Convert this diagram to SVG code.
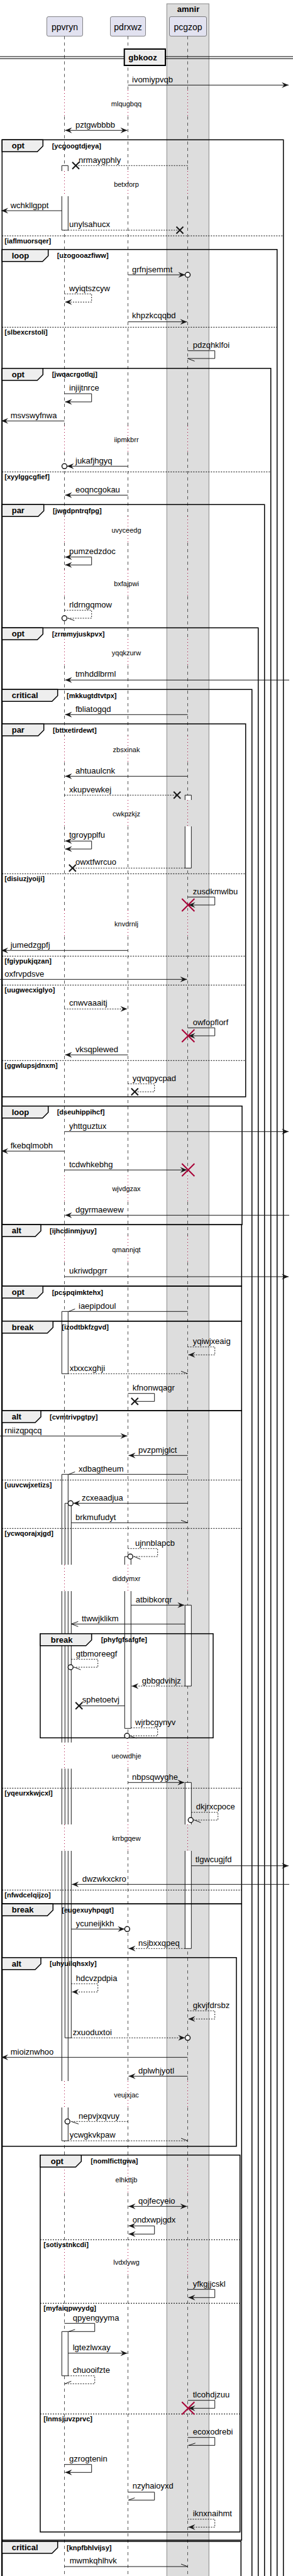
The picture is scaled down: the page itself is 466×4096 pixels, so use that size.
<svg xmlns="http://www.w3.org/2000/svg" width="466" height="4096" viewBox="0 0 466 4096">
<style>
.ll{stroke:#555;stroke-width:1;stroke-dasharray:5,5;fill:none}
.dl{stroke:#A80036;stroke-width:1;stroke-dasharray:1,4;fill:none}
.m{stroke:#181818;stroke-width:1;fill:none}
.d{stroke:#181818;stroke-width:1;fill:none;stroke-dasharray:2,2}
.a{marker-end:url(#ah)}
.b{marker-start:url(#ah);marker-end:url(#ah)}
.ci{fill:#fff;stroke:#181818;stroke-width:1.5}
.x{stroke:#181818;stroke-width:2;fill:none}
.rx{stroke:#A80036;stroke-width:2;fill:none}
.fr{fill:none;stroke:#000;stroke-width:1.5}
.tab{fill:#EEEEEE;stroke:#000;stroke-width:1.5}
.el{stroke:#000;stroke-width:1;stroke-dasharray:2,2;fill:none}
.act{fill:#fff;stroke:none}
.al{stroke:#181818;stroke-width:1;fill:none}
.pt{font:14px "Liberation Sans",Arial,sans-serif;fill:#000}
.t{font:13px "Liberation Sans",Arial,sans-serif;fill:#000}
.dt{font:11px "Liberation Sans",Arial,sans-serif;fill:#000}
.gl{font:bold 13px "Liberation Sans",Arial,sans-serif;fill:#000}
.gd{font:bold 11px "Liberation Sans",Arial,sans-serif;fill:#000}
</style>
<defs>
<marker id="ah" viewBox="-12 -6 13 12" refX="0" refY="0" markerWidth="13" markerHeight="12" markerUnits="userSpaceOnUse" orient="auto-start-reverse"><path d="M0,0 L-11,-4.5 L-7,0 L-11,4.5 Z" fill="#181818"/></marker>
</defs>
<rect width="466" height="4096" fill="#fff"/>
<g id="box-amnir">
<rect x="265.3" y="6" width="67" height="4100" fill="#DDDDDD" stroke="#888" stroke-width="1"/>
<text class="gl" x="299.5" y="19" text-anchor="middle">amnir</text>
</g>
<g id="lifelines">
<path class="ll" d="M102.5,57.5 V143 M102.5,185 V272 M102.5,312 V677 M102.5,719 V821 M102.5,863 V906 M102.5,948 V1016 M102.5,1058 V1170 M102.5,1212 V1272 M102.5,1314 V1447 M102.5,1489 V1869 M102.5,1911 V1965 M102.5,2007 V2488 M102.5,2530 V2770 M102.5,2812 V2901 M102.5,2943 V3309 M102.5,3351 V3445 M102.5,3487 V3576 M102.5,3618 V4096"/>
<path class="ll" d="M203.5,57.5 V143 M203.5,185 V272 M203.5,312 V677 M203.5,719 V821 M203.5,863 V906 M203.5,948 V1016 M203.5,1058 V1170 M203.5,1212 V1272 M203.5,1314 V1447 M203.5,1489 V1869 M203.5,1911 V1965 M203.5,2007 V2488 M203.5,2530 V2770 M203.5,2812 V2901 M203.5,2943 V3309 M203.5,3351 V3445 M203.5,3487 V3576 M203.5,3618 V4096"/>
<path class="ll" d="M298.5,57.5 V143 M298.5,185 V272 M298.5,312 V677 M298.5,719 V821 M298.5,863 V906 M298.5,948 V1016 M298.5,1058 V1170 M298.5,1212 V1272 M298.5,1314 V1447 M298.5,1489 V1869 M298.5,1911 V1965 M298.5,2007 V2488 M298.5,2530 V2770 M298.5,2812 V2901 M298.5,2943 V3309 M298.5,3351 V3445 M298.5,3487 V3576 M298.5,3618 V4096"/>
<path class="dl" d="M102.5,143 V185 M102.5,272 V312 M102.5,677 V719 M102.5,821 V863 M102.5,906 V948 M102.5,1016 V1058 M102.5,1170 V1212 M102.5,1272 V1314 M102.5,1447 V1489 M102.5,1869 V1911 M102.5,1965 V2007 M102.5,2488 V2530 M102.5,2770 V2812 M102.5,2901 V2943 M102.5,3309 V3351 M102.5,3445 V3487 M102.5,3576 V3618"/>
<path class="dl" d="M203.5,143 V185 M203.5,272 V312 M203.5,677 V719 M203.5,821 V863 M203.5,906 V948 M203.5,1016 V1058 M203.5,1170 V1212 M203.5,1272 V1314 M203.5,1447 V1489 M203.5,1869 V1911 M203.5,1965 V2007 M203.5,2488 V2530 M203.5,2770 V2812 M203.5,2901 V2943 M203.5,3309 V3351 M203.5,3445 V3487 M203.5,3576 V3618"/>
<path class="dl" d="M298.5,143 V185 M298.5,272 V312 M298.5,677 V719 M298.5,821 V863 M298.5,906 V948 M298.5,1016 V1058 M298.5,1170 V1212 M298.5,1272 V1314 M298.5,1447 V1489 M298.5,1869 V1911 M298.5,1965 V2007 M298.5,2488 V2530 M298.5,2770 V2812 M298.5,2901 V2943 M298.5,3309 V3351 M298.5,3445 V3487 M298.5,3576 V3618"/>
</g>
<g id="ppvryn"><rect x="74.5" y="26.5" width="57" height="31" rx="2.5" fill="#E2E2F0" stroke="#181818" stroke-width="0.5"/><text class="pt" x="103" y="48" text-anchor="middle">ppvryn</text></g>
<g id="pdrxwz"><rect x="175.5" y="26.5" width="56" height="31" rx="2.5" fill="#E2E2F0" stroke="#181818" stroke-width="0.5"/><text class="pt" x="203.5" y="48" text-anchor="middle">pdrxwz</text></g>
<g id="pcgzop"><rect x="269.5" y="26.5" width="59" height="31" rx="2.5" fill="#E2E2F0" stroke="#181818" stroke-width="0.5"/><text class="pt" x="299" y="48" text-anchor="middle">pcgzop</text></g>
<g id="activations">
<path class="act" d="M98.3,263.3 h10 v8.7 h-10 Z M98.3,312 h10 v54 h-10 Z M294.3,1264.3 h10 v7.7 h-10 Z M294.3,1314 h10 v66.3 h-10 Z M98.3,2085.3 h10 v99 h-10 Z M98.3,2344.3 h10 v143.7 h-10 Z M98.3,2530 h10 v240.7 h-10 Z M98.3,2812.3 h10 v88.7 h-10 Z M98.3,2943 h10 v366 h-10 Z M98.3,3351 h10 v53 h-10 Z M103.3,2390.3 h10 v97.7 h-10 Z M103.3,2530 h10 v240.7 h-10 Z M103.3,2812.3 h10 v88.7 h-10 Z M103.3,2943 h10 v297.3 h-10 Z M198.3,2475 h10 v13 h-10 Z M198.3,2530 h10 v218.3 h-10 Z M294.3,2552.3 h10 v128.7 h-10 Z M294.3,2834.3 h10 v66.7 h-10 Z M294.3,2943 h10 v155.3 h-10 Z M98.3,3707.3 h10 v70.4 h-10 Z"/>
<path class="al" d="M98.3,272 V263.3 H108.3 V272 M98.3,312 V366 H108.3 V312 M294.3,1272 V1264.3 H304.3 V1272 M294.3,1314 V1380.3 H304.3 V1314 M98.3,2085.3 h10 v99 h-10 Z M98.3,2488 V2344.3 H108.3 V2488 M98.3,2530 V2770.7 M108.3,2530 V2770.7 M98.3,2812.3 V2901 M108.3,2812.3 V2901 M98.3,2943 V3309 M108.3,2943 V3309 M98.3,3351 V3404 H108.3 V3351 M103.3,2488 V2390.3 H113.3 V2488 M103.3,2530 V2770.7 M113.3,2530 V2770.7 M103.3,2812.3 V2901 M113.3,2812.3 V2901 M103.3,2943 V3240.3 H113.3 V2943 M198.3,2488 V2475 H208.3 V2488 M198.3,2530 V2748.3 H208.3 V2530 M294.3,2552.3 h10 v128.7 h-10 Z M294.3,2901 V2834.3 H304.3 V2901 M294.3,2943 V3098.3 H304.3 V2943 M98.3,3707.3 h10 v70.4 h-10 Z"/>
</g>
<g id="separator-gbkooz">
<path d="M0,90 H466 M0,93.3 H466" stroke="#000" stroke-width="1"/>
<rect x="197.7" y="78" width="65.3" height="26" fill="#EEEEEE" stroke="#000" stroke-width="2"/>
<text class="gl" x="204.3" y="96">gbkooz</text>
</g>
<g id="frames">
<rect class="fr" x="3.3" y="222.3" width="447.4" height="3900"/>
<polygon class="tab" points="3.3,222.3 68.3,222.3 68.3,232.3 59.3,241.3 3.3,241.3"/>
<text class="gl" x="18.7" y="236.3">opt</text><text class="gd" x="82.7" y="235.8">[ycgoogtdjeya]</text>
<path class="el" d="M3.3,375 H450.7"/><text class="gd" x="7.3" y="386.5">[iaflmuorsqer]</text>

<rect class="fr" x="3.3" y="396.7" width="437.4" height="3800"/>
<polygon class="tab" points="3.3,396.7 76.7,396.7 76.7,406.7 67.7,415.7 3.3,415.7"/>
<text class="gl" x="18.7" y="410.7">loop</text><text class="gd" x="90.7" y="410.2">[uzogooazfiww]</text>
<path class="el" d="M3.3,520.3 H440.7"/><text class="gd" x="7.3" y="531.8">[slbexcrstoli]</text>

<rect class="fr" x="3.3" y="585.7" width="427.4" height="3600"/>
<polygon class="tab" points="3.3,585.7 68.3,585.7 68.3,595.7 59.3,604.7 3.3,604.7"/>
<text class="gl" x="18.7" y="599.7">opt</text><text class="gd" x="82.7" y="599.2">[jwqacrgotlqj]</text>
<path class="el" d="M3.3,750.3 H430.7"/><text class="gd" x="7.3" y="761.8">[xyylggcgfief]</text>

<rect class="fr" x="3.3" y="802.3" width="417.4" height="3400"/>
<polygon class="tab" points="3.3,802.3 69.7,802.3 69.7,812.3 60.7,821.3 3.3,821.3"/>
<text class="gl" x="18.7" y="816.3">par</text><text class="gd" x="84" y="815.8">[jwgdpntrqfpg]</text>

<rect class="fr" x="3.3" y="998.3" width="407.4" height="3200"/>
<polygon class="tab" points="3.3,998.3 68.3,998.3 68.3,1008.3 59.3,1017.3 3.3,1017.3"/>
<text class="gl" x="18.7" y="1012.3">opt</text><text class="gd" x="82.7" y="1011.8">[zrmmyjuskpvx]</text>

<rect class="fr" x="3.3" y="1096.3" width="397.4" height="3100"/>
<polygon class="tab" points="3.3,1096.3 91.7,1096.3 91.7,1106.3 82.7,1115.3 3.3,1115.3"/>
<text class="gl" x="18.7" y="1110.3">critical</text><text class="gd" x="106" y="1109.8">[mkkugtdtvtpx]</text>

<rect class="fr" x="3.3" y="1151" width="387.4" height="593"/>
<polygon class="tab" points="3.3,1151 69.7,1151 69.7,1161 60.7,1170 3.3,1170"/>
<text class="gl" x="18.7" y="1165">par</text><text class="gd" x="84" y="1164.5">[bttxetirdewt]</text>
<path class="el" d="M3.3,1389.3 H390.7 M3.3,1520.3 H390.7 M3.3,1566.3 H390.7 M3.3,1686.3 H390.7"/>
<text class="gd" x="7.3" y="1400.8">[disiuzjyoiji]</text>
<text class="gd" x="7.3" y="1531.8">[fgiypukjqzan]</text>
<text class="gd" x="7.3" y="1577.8">[uugwecxiglyo]</text>
<text class="gd" x="7.3" y="1697.8">[ggwlupsjdnxm]</text>

<rect class="fr" x="3.3" y="1758.7" width="381.7" height="188.6"/>
<polygon class="tab" points="3.3,1758.7 76.7,1758.7 76.7,1768.7 67.7,1777.7 3.3,1777.7"/>
<text class="gl" x="18.7" y="1772.7">loop</text><text class="gd" x="90.7" y="1772.2">[dseuhippihcf]</text>

<rect class="fr" x="3.3" y="1947.3" width="381" height="97.7"/>
<polygon class="tab" points="3.3,1947.3 65,1947.3 65,1957.3 56,1966.3 3.3,1966.3"/>
<text class="gl" x="18.7" y="1961.3">alt</text><text class="gd" x="79" y="1960.8">[ijhcdinmjyuy]</text>

<rect class="fr" x="3.3" y="2045" width="381" height="55.7"/>
<polygon class="tab" points="3.3,2045 68.3,2045 68.3,2055 59.3,2064 3.3,2064"/>
<text class="gl" x="18.7" y="2059">opt</text><text class="gd" x="82.7" y="2058.5">[pcspqimktehx]</text>

<rect class="fr" x="3.3" y="2100.7" width="381" height="142.3"/>
<polygon class="tab" points="3.3,2100.7 84.3,2100.7 84.3,2110.7 75.3,2119.7 3.3,2119.7"/>
<text class="gl" x="18.7" y="2114.7">break</text><text class="gd" x="98.3" y="2114.2">[izodtbkfzgvd]</text>

<rect class="fr" x="3.3" y="2243" width="381" height="784.3"/>
<polygon class="tab" points="3.3,2243 65,2243 65,2253 56,2262 3.3,2262"/>
<text class="gl" x="18.7" y="2257">alt</text><text class="gd" x="79" y="2256.5">[cvmtrivpgtpy]</text>
<path class="el" d="M3.3,2353.3 H384.3 M3.3,2430.3 H384.3 M3.3,2843.3 H384.3 M3.3,3005.3 H384.3"/>
<text class="gd" x="7.3" y="2364.8">[uuvcwjxetizs]</text>
<text class="gd" x="7.3" y="2441.8">[ycwqorajxjgd]</text>
<text class="gd" x="7.3" y="2854.8">[yqeurxkwjcxl]</text>
<text class="gd" x="7.3" y="3016.8">[nfwdcelqijzo]</text>

<rect class="fr" x="3.3" y="3027.3" width="381" height="1011.7"/>
<polygon class="tab" points="3.3,3027.3 84.3,3027.3 84.3,3037.3 75.3,3046.3 3.3,3046.3"/>
<text class="gl" x="18.7" y="3041.3">break</text><text class="gd" x="98.3" y="3040.8">[eugexuyhpqgt]</text>

<rect class="fr" x="3.3" y="3112.7" width="372.7" height="300"/>
<polygon class="tab" points="3.3,3112.7 65,3112.7 65,3122.7 56,3131.7 3.3,3131.7"/>
<text class="gl" x="18.7" y="3126.7">alt</text><text class="gd" x="79" y="3126.2">[uhyuilqhsxly]</text>

<rect class="fr" x="3.3" y="4041" width="380" height="200"/>
<polygon class="tab" points="3.3,4041 91.7,4041 91.7,4051 82.7,4060 3.3,4060"/>
<text class="gl" x="18.7" y="4055">critical</text><text class="gd" x="106" y="4054.5">[knpfbhlvijsy]</text>
</g>
<g id="frames-inner">
<rect class="fr" x="64" y="2597.7" width="275" height="165.6"/>
<polygon class="tab" points="64,2597.7 145.7,2597.7 145.7,2607.7 136.7,2616.7 64,2616.7"/>
<text class="gl" x="80.7" y="2611.7">break</text><text class="gd" x="160.7" y="2611.2">[phyfgfsafgfe]</text>

<rect class="fr" x="64" y="3426.7" width="317.7" height="599.3"/>
<polygon class="tab" points="64,3426.7 129.3,3426.7 129.3,3436.7 120.3,3445.7 64,3445.7"/>
<text class="gl" x="80.7" y="3440.7">opt</text><text class="gd" x="144.3" y="3440.2">[nomlficttgwa]</text>
<path class="el" d="M64,3561.3 H381.7 M64,3662.3 H381.7 M64,3838.3 H381.7"/>
<text class="gd" x="69.3" y="3572.8">[sotiystnkcdi]</text>
<text class="gd" x="69.3" y="3673.8">[myfaiqpwyydg]</text>
<text class="gd" x="69.3" y="3849.8">[lnmsjuvzprvc]</text>
</g>
<g id="delays">
<text class="dt" x="201" y="169" text-anchor="middle">mlqugbqq</text>
<text class="dt" x="201" y="297" text-anchor="middle">betxforp</text>
<text class="dt" x="201" y="703" text-anchor="middle">iipmkbrr</text>
<text class="dt" x="201" y="847" text-anchor="middle">uvyceedg</text>
<text class="dt" x="201" y="932" text-anchor="middle">bxfajpwi</text>
<text class="dt" x="201" y="1042" text-anchor="middle">yqqkzurw</text>
<text class="dt" x="201" y="1196" text-anchor="middle">zbsxinak</text>
<text class="dt" x="201" y="1298" text-anchor="middle">cwkpzkjz</text>
<text class="dt" x="201" y="1473" text-anchor="middle">knvdrnlj</text>
<text class="dt" x="201" y="1894" text-anchor="middle">wjvdgzax</text>
<text class="dt" x="201" y="1991" text-anchor="middle">qmannjqt</text>
<text class="dt" x="201" y="2514" text-anchor="middle">diddymxr</text>
<text class="dt" x="201" y="2796" text-anchor="middle">ueowdhje</text>
<text class="dt" x="201" y="2927" text-anchor="middle">krrbgqew</text>
<text class="dt" x="201" y="3335" text-anchor="middle">veujxjac</text>
<text class="dt" x="201" y="3470" text-anchor="middle">elhkttjb</text>
<text class="dt" x="201" y="3601" text-anchor="middle">lvdxlywg</text>
</g>
<g id="connectors">
<path class="m a" d="M203.5,135.3 H459"/><text class="t" x="210" y="131">ivomiypvqb</text>
<path class="m b" d="M103.5,207.3 H202.5"/><text class="t" x="120" y="202.5">pztgwbbbb</text>
<path class="d" d="M298.5,263.3 H120.5"/><path class="x" d="M115,257.8 L126,268.8 M126,257.8 L115,268.8"/><text class="t" x="125" y="258.5">nrmaygphly</text>
<path class="m a" d="M98.3,335 H2"/><text class="t" x="16.7" y="330.5">wchkllgppt</text>
<path class="d" d="M108.3,366 H286"/><path class="x" d="M280.5,360.5 L291.5,371.5 M291.5,360.5 L280.5,371.5"/><text class="t" x="110" y="361">unylsahucx</text>
<path class="m a" d="M203.5,437 H294.5"/><circle class="ci" cx="298.5" cy="437" r="4"/><text class="t" x="210" y="432.5">grfnjsemmt</text>
<path class="d a" d="M102.5,467.3 H145.7 V480.3 H103.5"/><text class="t" x="110" y="462.5">wyiqtszcyw</text>
<path class="m a" d="M203.5,511.7 H297.5"/><text class="t" x="210" y="506">khpzkcqqbd</text>
<path class="m" d="M298.5,557.7 H341.7 V570 H298.5 M298.5,570 L309.5,574.3"/><text class="t" x="306.7" y="553">pdzqhklfoi</text>
<path class="m a" d="M102.5,626 H145.7 V639 H103.5"/><text class="t" x="110" y="620.5">injijtnrce</text>
<path class="m a" d="M102.5,669.3 H2"/><text class="t" x="16.7" y="664.5">msvswyfnwa</text>
<path class="m a" d="M203.5,741.3 H106.5"/><circle class="ci" cx="102.5" cy="741.3" r="4"/><text class="t" x="120" y="736.5">jukafjhgyq</text>
<path class="m a" d="M203.5,787.3 H103.5"/><text class="t" x="120" y="782.5">eoqncgokau</text>
<path class="m b" d="M103.5,885.7 H145.7 V898.3 H103.5"/><text class="t" x="110" y="880.5">pumzedzdoc</text>
<path class="d" d="M102.5,970.3 H145.7 V983 H106.5"/><circle class="ci" cx="102.5" cy="983" r="4"/><path class="m" d="M108.3,983 L118.3,986.7"/><text class="t" x="110" y="965.5">rldrngqmow</text>
<path class="m a" d="M460,1081.3 H103.5"/><text class="t" x="120" y="1076">tmhddlbrml</text>
<path class="m a" d="M298.5,1136.3 H103.5"/><text class="t" x="120" y="1131.5">fbliatogqd</text>
<path class="m a" d="M298.5,1234.3 H103.5"/><text class="t" x="120" y="1229.5">ahtuaulcnk</text>
<path class="d" d="M102.5,1264.3 H281.7"/><path class="x" d="M276.2,1258.8 L287.2,1269.8 M287.2,1258.8 L276.2,1269.8"/><text class="t" x="110" y="1259.5">xkupvewkej</text>
<path class="m b" d="M103.5,1337.3 H145.7 V1350 H103.5"/><text class="t" x="110" y="1332">tgroypplfu</text>
<path class="d" d="M294.3,1380.3 H115.3"/><path class="x" d="M109.8,1374.8 L120.8,1385.8 M120.8,1374.8 L109.8,1385.8"/><text class="t" x="120" y="1375">owxtfwrcuo</text>
<path class="m a" d="M298.5,1426.3 H341.7 V1439 H299.5"/><path class="rx" d="M289.3,1429 L309.3,1449 M309.3,1429 L289.3,1449"/><text class="t" x="306.7" y="1421.5">zusdkmwlbu</text>
<path class="m a" d="M203.5,1511.3 H2"/><text class="t" x="16.7" y="1506.5">jumedzgpfj</text>
<path class="m a" d="M0,1557.3 H297.5"/><text class="t" x="7.3" y="1552.5">oxfrvpdsve</text>
<path class="d a" d="M102.5,1604.3 H202.5"/><text class="t" x="110" y="1599">cnwvaaaitj</text>
<path class="m a" d="M298.5,1634.3 H341.7 V1647 H299.5"/><path class="rx" d="M289.3,1637 L309.3,1657 M309.3,1637 L289.3,1657"/><text class="t" x="306.7" y="1629.5">owfopflorf</text>
<path class="m a" d="M203.5,1677.3 H103.5"/><text class="t" x="120" y="1672.5">vksqplewed</text>
<path class="d" d="M203.5,1723.3 H245.7 V1736 H214.3"/><path class="x" d="M208.8,1730.5 L219.8,1741.5 M219.8,1730.5 L208.8,1741.5"/><text class="t" x="210.7" y="1718.5">yqvqpycpad</text>
<path class="m a" d="M102.5,1799.3 H459"/><text class="t" x="110" y="1794.5">yhttguztux</text>
<path class="m a" d="M102.5,1830.3 H2"/><text class="t" x="16.7" y="1825.5">fkebqlmobh</text>
<path class="m a" d="M102.5,1860.3 H297.5"/><path class="rx" d="M289.3,1850.3 L309.3,1870.3 M309.3,1850.3 L289.3,1870.3"/><text class="t" x="110" y="1855.5">tcdwhkebhg</text>
<path class="m a" d="M460,1932.3 H103.5"/><text class="t" x="120" y="1927.5">dgyrmaewew</text>
<path class="m a" d="M102.5,2030 H459"/><text class="t" x="110" y="2025">ukriwdpgrr</text>
<path class="m" d="M298.5,2085.3 H108.3 M109.3,2085.3 L119.3,2081.3"/><text class="t" x="125" y="2080.5">iaepipdoul</text>
<path class="d a" d="M298.5,2141.7 H341.7 V2154.3 H299.5"/><text class="t" x="306.7" y="2136.5">yqiwjxeaig</text>
<path class="d" d="M108.3,2184.3 H298.5"/><path class="m" d="M298.5,2184.3 L288,2180.3"/><text class="t" x="110.7" y="2179.5">xtxxcxghji</text>
<path class="m" d="M203.5,2215.7 H245.7 V2228.3 H214.3"/><path class="x" d="M208.8,2222.8 L219.8,2233.8 M219.8,2222.8 L208.8,2233.8"/><text class="t" x="210.7" y="2210.5">kfnonwqagr</text>
<path class="m a" d="M0,2283.3 H202.5"/><text class="t" x="7.3" y="2278.5">rniizqpqcq</text>
<path class="m a" d="M298.5,2314.3 H204.5"/><text class="t" x="220" y="2309.5">pvzpmjglct</text>
<path class="m" d="M298.5,2344.3 H108.3 M109.3,2344.3 L119.3,2340.3"/><text class="t" x="125" y="2339.5">xdbagtheum</text>
<path class="m a" d="M298.5,2390.3 H116.5"/><circle class="ci" cx="112.3" cy="2390.3" r="4"/><text class="t" x="130" y="2385.5">zcxeaadjua</text>
<path class="m" d="M113.3,2421.3 H298.5 M298.5,2421.3 L288,2417.3"/><text class="t" x="120" y="2416.5">brkmufudyt</text>
<path class="d" d="M203.5,2462.3 H250.7 V2475 H211.3"/><circle class="ci" cx="207.3" cy="2475" r="4"/><path class="m" d="M213.3,2475 L223.3,2479.3"/><text class="t" x="215" y="2457.5">ujnnblapcb</text>
<path class="m a" d="M208.3,2552.3 H293.3"/><text class="t" x="215.7" y="2547.5">atbibkorqr</text>
<path class="m" d="M294.3,2582.3 H113.3 M124.3,2578.3 L113.3,2582.3 L124.3,2586.3"/><text class="t" x="130" y="2577.5">ttwwjklikm</text>
<path class="d" d="M113.3,2638.3 H155.7 V2651 H116.3"/><circle class="ci" cx="112.3" cy="2651" r="4"/><path class="m" d="M118.3,2651 L128.3,2655"/><text class="t" x="120.7" y="2633.5">gtbmoreegf</text>
<path class="d a" d="M294.3,2681 H209.3"/><text class="t" x="225.7" y="2676.5">gbbgdvihjz</text>
<path class="m" d="M198.3,2712.3 H125.7"/><path class="x" d="M120.2,2706.8 L131.2,2717.8 M131.2,2706.8 L120.2,2717.8"/><text class="t" x="130.7" y="2707">sphetoetvj</text>
<path class="d" d="M208.3,2747.3 H250.7 V2760 H206"/><circle class="ci" cx="202" cy="2760" r="4"/><path class="m" d="M206.7,2760 L216.7,2764"/><text class="t" x="215" y="2742.5">wjrbcgynyv</text>
<path class="m a" d="M203.5,2834.3 H293.3"/><text class="t" x="210" y="2829.5">nbpsqwyghe</text>
<path class="d" d="M304.3,2881.7 H346.7 V2894 H307.3"/><circle class="ci" cx="303.3" cy="2894" r="4"/><path class="m" d="M309.3,2894 L319.3,2898"/><text class="t" x="311.7" y="2876.5">dkjrxcpoce</text>
<path class="m a" d="M304.3,2966.7 H459"/><text class="t" x="310.7" y="2961">tlgwcugjfd</text>
<path class="m a" d="M460,2996.3 H114.3"/><text class="t" x="130.7" y="2991.5">dwzwkxckro</text>
<path class="m a" d="M113.3,3067.3 H198.3"/><circle class="ci" cx="202.3" cy="3067.3" r="4"/><text class="t" x="120.7" y="3062.5">ycuneijkkh</text>
<path class="d a" d="M294.3,3098.3 H204.5"/><text class="t" x="220" y="3093.5">nsjbxxqpeq</text>
<path class="d a" d="M113.3,3154.3 H155.7 V3167.3 H114.3"/><text class="t" x="120.7" y="3149.5">hdcvzpdpia</text>
<path class="d a" d="M298.5,3197.3 H341.7 V3210.3 H299.5"/><text class="t" x="306.7" y="3192.5">gkvjfdrsbz</text>
<path class="d a" d="M113.3,3240.3 H294.3"/><circle class="ci" cx="298.5" cy="3240.3" r="4"/><text class="t" x="115.7" y="3235.5">zxuoduxtoi</text>
<path class="m a" d="M298.5,3271.3 H2"/><text class="t" x="16.7" y="3266.5">mioiznwhoo</text>
<path class="m a" d="M298.5,3301.3 H204.5"/><text class="t" x="220" y="3296.5">dplwhjyotl</text>
<path class="d" d="M203.5,3373.3 H111.3"/><circle class="ci" cx="107.3" cy="3373.3" r="4"/><path class="m" d="M113.3,3373.3 L125,3377.3"/><text class="t" x="125" y="3368.5">nepvjxqvuy</text>
<path class="d" d="M108.3,3404 H298.5"/><path class="m" d="M298.5,3404 L288,3400"/><text class="t" x="110.7" y="3398.5">ycwgkvkpaw</text>
<path class="m b" d="M204.5,3508.3 H297.5"/><text class="t" x="220" y="3503.5">qojfecyeio</text>
<path class="m b" d="M204.5,3539.3 H245.7 V3552.3 H204.5"/><text class="t" x="210.7" y="3534">ondxwpjgdx</text>
<path class="m a" d="M298.5,3640.3 H341.7 V3653.3 H299.5"/><text class="t" x="306.7" y="3635.5">yfkgjjcskl</text>
<path class="m" d="M102.5,3694.3 H150.7 V3707.3 H108.3 M109.3,3707.3 L119.3,3704"/><text class="t" x="115.7" y="3689.5">qpyengyyma</text>
<path class="m a" d="M108.3,3741.7 H202.5"/><text class="t" x="115.7" y="3737">lgtezlwxay</text>
<path class="d" d="M108.3,3777.7 H150.7 V3790.3 H102.5"/><path class="m" d="M103.3,3790.3 L113.3,3786.3"/><text class="t" x="115.7" y="3772.5">chuooifzte</text>
<path class="m a" d="M298.5,3816.7 H341.7 V3829.3 H299.5"/><path class="rx" d="M289.3,3819.3 L309.3,3839.3 M309.3,3819.3 L289.3,3839.3"/><text class="t" x="306.7" y="3811.5">tlcohdjzuu</text>
<path class="m" d="M298.5,3875.7 H341.7 V3888.3 H299.5 M300,3888.3 L310.7,3884.7"/><text class="t" x="306.7" y="3870.5">ecoxodrebi</text>
<path class="m a" d="M102.5,3918.7 H145.7 V3931.3 H103.5"/><text class="t" x="110" y="3914">gzrogtenin</text>
<path class="m" d="M203.5,3962.7 H245.7 V3975.3 H204.3 M204.3,3975.3 L214.3,3971.7"/><text class="t" x="210.7" y="3957">nzyhaioyxd</text>
<path class="d a" d="M298.5,4005.7 H341.7 V4018.3 H299.5"/><text class="t" x="306.7" y="4000.5">iknxnaihmt</text>
<path class="m" d="M102.5,4081 H298.5 M298.5,4081 L288,4077"/><text class="t" x="110.7" y="4076">mwmkqhlhvk</text>
</g>
</svg>
